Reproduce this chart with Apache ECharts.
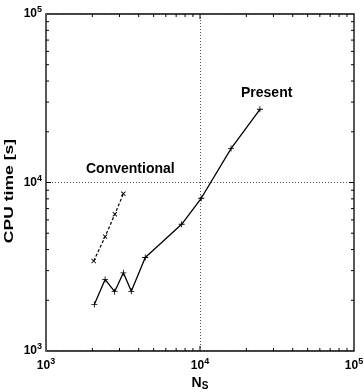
<!DOCTYPE html>
<html><head><meta charset="utf-8">
<script src="https://cdn.jsdelivr.net/npm/echarts@6/dist/echarts.min.js"></script>
<style>html,body{margin:0;padding:0;background:#fff}#c{width:364px;height:392px}</style>
</head><body><div id="c"></div>
<script>
// Data (log-log)
const presentNs   = [2060, 2420, 2790, 3180, 3580, 4410, 7600, 10180, 15900, 24500];
const presentCPU  = [1890, 2660, 2250, 2910, 2260, 3590, 5650, 8060, 15900, 27200];
const convNs      = [2040, 2420, 2800, 3180];
const convCPU     = [3420, 4770, 6480, 8580];
const minorTicks  = [2000,3000,4000,5000,6000,7000,8000,9000,20000,30000,40000,50000,60000,70000,80000,90000];

const chart = echarts.init(document.getElementById('c'), null, {renderer:'canvas'});
const FONT = 'Liberation Sans';
const plus = 'path://M4.3,0H5.7V4.3H10V5.7H5.7V10H4.3V5.7H0V4.3H4.3Z';
const supLabel = v => '{b|10}{s|' + Math.round(Math.log10(v)) + '}';
const rich = {
  b:{fontFamily:FONT,fontWeight:'bold',fontSize:12,color:'#000'},
  s:{fontFamily:FONT,fontWeight:'bold',fontSize:9,color:'#000',padding:[0,0,8,0]}
};
const tickData = [];
minorTicks.forEach(v=>{tickData.push([v,'x',3]);tickData.push([v,'y',3]);});
[10000].forEach(v=>{tickData.push([v,'x',5]);tickData.push([v,'y',5]);});

chart.setOption({
  animation:false,
  grid:{left:46,right:10,top:14,bottom:41,containLabel:false,outerBoundsMode:'none',
    show:true,borderColor:'#000',borderWidth:1.3,backgroundColor:'transparent'},
  xAxis:{type:'log',logBase:10,min:1000,max:100000,
    axisLine:{show:false},axisTick:{show:false},
    axisLabel:{formatter:supLabel,rich:rich,margin:6},
    splitLine:{show:true,lineStyle:{type:[1,2],color:'#555',width:1}},
    name:'{n|N}{ss|S}',nameLocation:'middle',nameGap:23,
    nameTextStyle:{rich:{n:{fontFamily:FONT,fontWeight:'bold',fontSize:14,color:'#000'},ss:{fontFamily:FONT,fontWeight:'bold',fontSize:10,color:'#000',padding:[5,0,0,0],verticalAlign:'bottom'}}}
  },
  yAxis:{type:'log',logBase:10,min:1000,max:100000,
    axisLine:{show:false},axisTick:{show:false},
    axisLabel:{formatter:supLabel,rich:rich,margin:4},
    splitLine:{show:true,lineStyle:{type:[1,2],color:'#555',width:1}}
  },
  series:[
    {type:'line',name:'Present',data:presentNs.map((x,i)=>[x,presentCPU[i]]),
      symbol:plus,symbolSize:6,itemStyle:{color:'#000'},lineStyle:{color:'#000',width:1.3}},
    {type:'line',name:'Conventional',data:convNs.map((x,i)=>[x,convCPU[i]]),
      symbol:plus,symbolRotate:45,symbolSize:6,itemStyle:{color:'#000'},lineStyle:{color:'#000',width:1.2,type:[3,2]}},
    {type:'custom',silent:true,clip:false,data:tickData,
      renderItem:function(params,api){
        const v=api.value(0), ax=tickData[params.dataIndex][1], len=tickData[params.dataIndex][2];
        const st={stroke:'#000',lineWidth:1};
        if(ax==='x'){
          const b=api.coord([v,1000]), t=api.coord([v,100000]);
          return {type:'group',children:[
            {type:'line',shape:{x1:b[0],y1:b[1],x2:b[0],y2:b[1]-len},style:st},
            {type:'line',shape:{x1:t[0],y1:t[1],x2:t[0],y2:t[1]+len},style:st}]};
        } else {
          const l=api.coord([1000,v]), r=api.coord([100000,v]);
          return {type:'group',children:[
            {type:'line',shape:{x1:l[0],y1:l[1],x2:l[0]+len,y2:l[1]},style:st},
            {type:'line',shape:{x1:r[0],y1:r[1],x2:r[0]-len,y2:r[1]},style:st}]};
        }
      }}
  ],
  graphic:[
    {type:'text',x:9,y:191,rotation:Math.PI/2,scaleX:1.35,
      style:{text:'CPU time [s]',fontFamily:FONT,fontWeight:'bold',fontSize:13,fill:'#000',align:'center',verticalAlign:'middle'}},
    {type:'text',left:86,top:162,style:{text:'Conventional',fontFamily:FONT,fontWeight:'bold',fontSize:14,fill:'#000'}},
    {type:'text',left:241,top:86,style:{text:'Present',fontFamily:FONT,fontWeight:'bold',fontSize:14,fill:'#000'}}
  ]
});
</script></body></html>
